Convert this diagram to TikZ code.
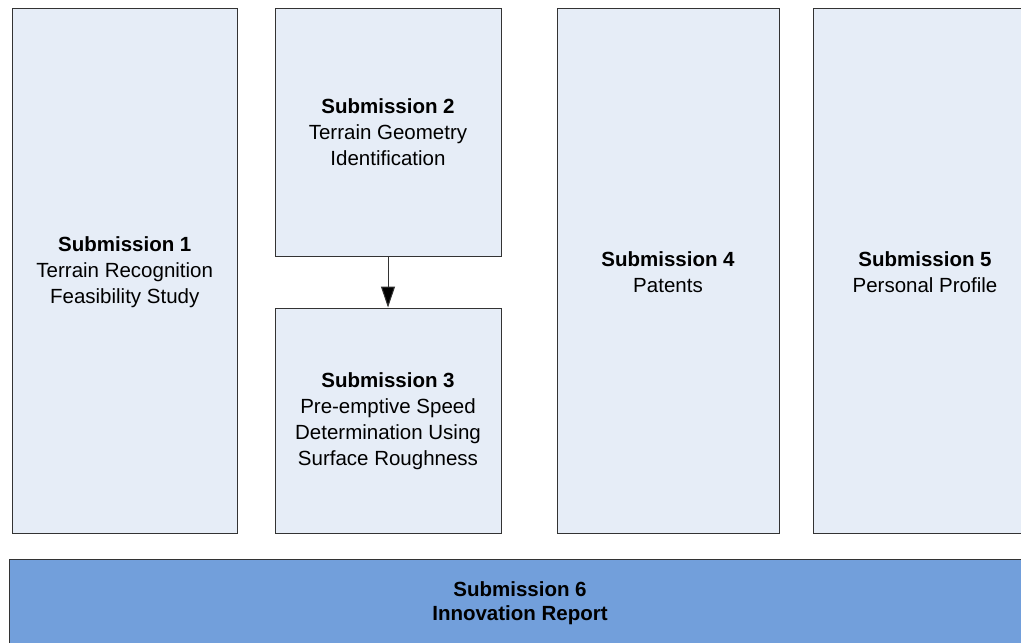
\documentclass[tikz,border=0pt]{standalone}
\usepackage{fontspec}
\setmainfont{Liberation Sans}
\usetikzlibrary{arrows.meta}
\definecolor{lightfill}{HTML}{E6EDF7}
\definecolor{darkfill}{HTML}{729FDB}
\definecolor{edge}{HTML}{333333}
\begin{document}
\begin{tikzpicture}[x=1pt,y=-1pt,
  box/.style={draw=edge, line width=1pt, fill=lightfill, inner sep=0pt},
  bigbox/.style={box, fill=darkfill},
  txt/.style={align=center, inner sep=0pt, font=\fontsize{20.5}{26}\selectfont},
  bigtxt/.style={align=center, inner sep=0pt, font=\fontsize{20.5}{24}\selectfont\bfseries},
  link/.style={draw=edge, line width=1pt, -{Triangle[width=14pt,length=21pt,fill=black]}}]
\useasboundingbox (0,0) rectangle (1021,643);
\node[box, minimum width=224.5pt, minimum height=525pt] (s1) at (124.75,270.5) {};
\node[box, minimum width=226pt, minimum height=248pt] (s2) at (388,132) {};
\node[box, minimum width=226pt, minimum height=225pt] (s3) at (388,420.5) {};
\node[box, minimum width=222pt, minimum height=525pt] (s4) at (668,270.5) {};
\node[box, minimum width=224pt, minimum height=525pt] (s5) at (925,270.5) {};
\node[bigbox, minimum width=1022pt, minimum height=84pt] (s6) at (520,601) {};
\node[txt] (t1) at ([yshift=-2pt]s1.center) {\textbf{Submission 1}\\Terrain Recognition\\Feasibility Study};
\node[txt] (t2) at (s2.center) {\textbf{Submission 2}\\Terrain Geometry\\Identification};
\node[txt] (t3) at ([yshift=-1pt]s3.center) {\textbf{Submission 3}\\Pre-emptive Speed\\Determination Using\\Surface Roughness};
\node[txt] (t4) at ([yshift=-2pt]s4.center) {\textbf{Submission 4}\\Patents};
\node[txt] (t5) at ([yshift=-2pt]s5.center) {\textbf{Submission 5}\\Personal Profile};
\node[bigtxt] (t6) at ([yshift=-2pt]s6.center) {Submission 6\\Innovation Report};
\draw[link] (s2.south) -- (s3.north);
\end{tikzpicture}
\end{document}
